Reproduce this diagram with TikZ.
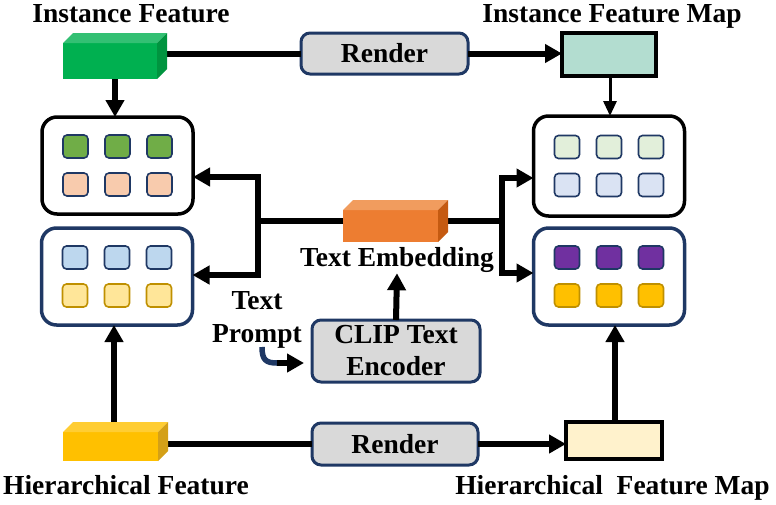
\documentclass[tikz,border=0pt]{standalone}
\usepackage{fontspec}
\setmainfont{Liberation Serif}
\usetikzlibrary{arrows.meta}
\definecolor{navy}{HTML}{1F3864}
\definecolor{gfront}{HTML}{00B050}
\definecolor{gtop}{HTML}{33C073}
\definecolor{gside}{HTML}{00943F}
\definecolor{ofront}{HTML}{ED7D31}
\definecolor{otop}{HTML}{F19C5E}
\definecolor{oside}{HTML}{C55A11}
\definecolor{yfront}{HTML}{FFC000}
\definecolor{ytop}{HTML}{FFCD33}
\definecolor{yside}{HTML}{D4A017}
\definecolor{rgrey}{HTML}{D9D9D9}
\definecolor{imapc}{HTML}{B3DDD0}
\definecolor{hmapc}{HTML}{FFF2CC}
\definecolor{sqA}{HTML}{70AD47}
\definecolor{sqB}{HTML}{F8CBAD}
\definecolor{sqC}{HTML}{BDD7EE}
\definecolor{sqD}{HTML}{FFE699}
\definecolor{sqE}{HTML}{E2EFDA}
\definecolor{sqF}{HTML}{DAE3F3}
\definecolor{sqG}{HTML}{7030A0}
\definecolor{sqH}{HTML}{FFC000}
\definecolor{gold}{HTML}{BF9000}
\newcommand\mycube[3]{%
  \fill[#2] (#1.north west) -- ++(10,-10) -- ([shift={(10,-10)}]#1.north east) -- (#1.north east) -- cycle;
  \fill[#3] (#1.north east) -- ++(10,-10) -- ([shift={(10,-10)}]#1.south east) -- (#1.south east) -- cycle;
}
\begin{document}
\begin{tikzpicture}[x=1pt,y=-1pt,
  lbl/.style={font=\fontsize{27.5}{33}\selectfont\bfseries, inner sep=1pt, align=center},
  face/.style={inner sep=0, outer sep=0, draw=none},
  rbox/.style={draw=navy, line width=3pt, rounded corners=9pt, fill=rgrey, inner sep=0, outer sep=0,
     font=\fontsize{27.5}{32}\selectfont\bfseries, align=center},
  mapbox/.style={draw=black, line width=3.5pt, inner sep=0, outer sep=0},
  bigbox/.style={line width=3.5pt, rounded corners=15pt, fill=white, inner sep=0, outer sep=0,
     minimum width=151, minimum height=97},
  sq/.style={draw=navy, line width=1.6pt, rounded corners=4pt, minimum width=25, minimum height=23, inner sep=0},
  ln/.style={line width=6pt},
  arr/.style={line width=6pt, -{Triangle[length=17pt,width=18pt]}},
  tarr/.style={line width=3pt, -{Triangle[length=15pt,width=13pt]}}
]
\useasboundingbox (0,0) rectangle (776,504);

% labels
\node[lbl] (tinst) at (131,14) {Instance Feature};
\node[lbl] (timap) at (612,16.5) {Instance Feature Map};
\node[lbl] (thier) at (126,485) {Hierarchical Feature};
\node[lbl] (thmap) at (612.5,487.5) {Hierarchical\ \ Feature Map};
\node[lbl] (embl) at (397,259.5) {Text Embedding};
\node[lbl] (tp) at (257,320) {Text\\Prompt};

% big boxes
\node[bigbox, draw=black] (lt) at (117.5,165.5) {};
\node[bigbox, draw=navy] (lb) at (117,276.5) {};
\node[bigbox, draw=black, minimum height=100] (rt) at (609,166) {};
\node[bigbox, draw=navy] (rb) at (609,276.5) {};

\foreach \b/\ca/\cb/\bd in {lt/sqA/sqB/navy, lb/sqC/sqD/gold, rt/sqE/sqF/navy, rb/sqG/sqH/gold}{
  \foreach \i/\dx in {1/-42,2/0,3/42}{
    \node[sq, fill=\ca] (\b a\i) at ([shift={(\dx,-19)}]\b.center) {};
    \node[sq, fill=\cb, draw=\bd] (\b b\i) at ([shift={(\dx,19)}]\b.center) {};
  }
}

% render boxes and maps
\node[rbox, minimum width=167, minimum height=41] (r1) at (384.5,53.5) {Render};
\node[rbox, minimum width=166, minimum height=42] (r2) at (395,444) {Render};
\node[rbox, minimum width=168, minimum height=62] (clip) at (396,351) {CLIP Text\\Encoder};
\node[mapbox, fill=imapc, minimum width=94, minimum height=43] (imap) at (609,54.5) {};
\node[mapbox, fill=hmapc, minimum width=96, minimum height=37] (hmap) at (614,440.5) {};

% cuboid front faces
\node[face, fill=gfront, minimum width=94, minimum height=36] (inst) at (110,61) {};
\node[face, fill=ofront, minimum width=95, minimum height=32] (emb) at (390.5,226) {};
\node[face, fill=yfront, minimum width=95, minimum height=29] (hier) at (110.5,446.5) {};

% junction coordinates
\coordinate (jl) at (258,221);
\coordinate (jlt) at (258,177);
\coordinate (jlb) at (258,275);
\coordinate (jr) at (502,221);
\coordinate (jrt) at (502,178);
\coordinate (jrb) at (502,273);
\coordinate (tpa) at (262,347);
\coordinate (tpb) at (277,363);
\coordinate (xa) at (115,0);
\coordinate (xb) at (610,0);
\coordinate (xc) at (114,422);
\coordinate (xd) at (615,0);

% connectors
\draw[ln] (r1.west -| inst.east) -- (r1.west);
\draw[arr] (r1.east) -- (r1.east -| imap.west);
\draw[arr] (inst.south -| xa) -- (xa |- lt.north);
\draw[tarr] (imap.south -| xb) -- (xb |- rt.north);

\draw[ln] (emb.west |- jl) -- (jl);
\draw[ln] (emb.east |- jr) -- (jr);
\draw[arr] (jl) -- (jlt) -- (lt.east |- jlt);
\draw[arr] (jl) -- (jlb) -- (lb.east |- jlb);
\draw[arr] (jr) -- (jrt) -- (rt.west |- jrt);
\draw[arr] (jr) -- (jrb) -- (rb.west |- jrb);

\draw[arr] (clip.north) -- (embl.south);
\draw[navy, line width=5.5pt] (tpa) .. controls (262,360) and (266,363) .. (tpb);
\draw[arr, shorten >=8pt] (tpb) -- (clip.west |- tpb);

\draw[ln] (r2.west -| hier.east) -- (r2.west);
\draw[arr] (r2.east) -- (r2.east -| hmap.west);
\draw[arr] (xc) -- (xc |- lb.south);
\draw[arr] (hmap.north -| xd) -- (xd |- rb.south);

% cuboid top and side faces (over the lines)
\mycube{inst}{gtop}{gside}
\mycube{emb}{otop}{oside}
\mycube{hier}{ytop}{yside}
\end{tikzpicture}
\end{document}
